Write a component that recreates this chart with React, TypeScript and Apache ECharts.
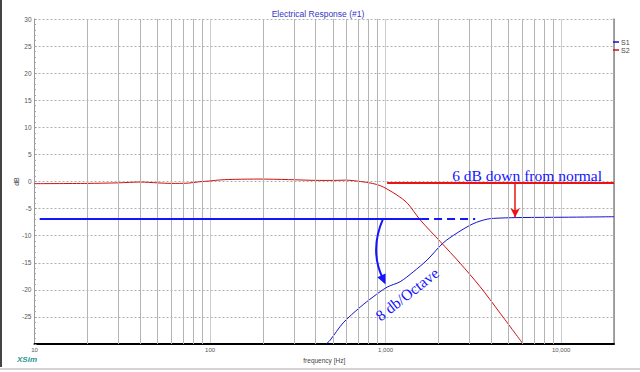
import React, { useEffect, useRef } from "react";
import * as echarts from "echarts";

const titleText = "Electrical Response (#1)";
const xName = "frequency [Hz]";
const yName = "dB";
const seriesNames = ["S1", "S2"];
const xMin = 10;
const xMax = 20000;
const yMin = -30;
const yMax = 30;
const yStep = 5;
const minorFreqs = [
  20, 30, 40, 50, 60, 70, 80, 90,
  200, 300, 400, 500, 600, 700, 800, 900,
  2000, 3000, 4000, 5000, 6000, 7000, 8000, 9000,
];

// S1 (blue) [Hz, dB]
const s1Data: number[][] = [
  [458, -30], [483, -29.3], [573, -26.1], [716, -23.2], [849, -21.3],
  [1020, -19.5], [1210, -18.5], [1435, -16.7], [1723, -14.5], [2127, -11.35],
  [2555, -9.5], [3150, -7.8], [3790, -6.95], [4490, -6.75], [6000, -6.65],
  [10000, -6.6], [15000, -6.55], [20000, -6.5],
];

// S2 (red) [Hz, dB]
const s2Data: number[][] = [
  [10, -0.4], [20, -0.35], [30, -0.25], [40, -0.1], [50, -0.25], [60, -0.35],
  [75, -0.3], [87, -0.05], [100, 0.1], [115, 0.3], [140, 0.4], [190, 0.45],
  [280, 0.35], [420, 0.2], [500, 0.2], [590, 0.25], [720, 0], [840, -0.35],
  [930, -0.75], [1020, -1.4], [1160, -2.5], [1330, -4], [1575, -7.1],
  [2050, -11.1], [2660, -15.1], [3450, -19.4], [4490, -24.3], [6070, -30],
];

// annotation geometry in data space [Hz, dB]
const normalLine = [[1020, -0.2], [20000, -0.2]];
const downArrow = [[5470, -0.2], [5470, -6.6]];
const flatSolid = [[10.7, -6.85], [1592, -6.85]];
const flatDashed = [[1592, -6.85], [3236, -6.85]];
// quadratic curve: start, control, end
const curvedArrow = [[968, -6.85], [810, -12.6], [1000, -19.0]];
const annotTexts = ["6 dB down from normal", "8 db/Octave"];
const annotTextPos = [[6400, 1.1], [1324, -20.8]];
const annotTextRot = [0, 38];

export default function App() {
  const ref = useRef<HTMLDivElement>(null);
  useEffect(() => {
    document.body.style.margin = "0";
    if (!ref.current) return;
    const chart = echarts.init(ref.current, null, { renderer: "svg" });
    const blueA = "#1414ff";
    const redA = "#ee1111";
    const font = "Arial, 'Liberation Sans'";
    const option: any = {
      animation: false,
      backgroundColor: "#ffffff",
      title: {
        text: titleText,
        left: 313,
        top: 4,
        textAlign: "center",
        textStyle: { fontFamily: font, fontSize: 8.5, fontWeight: "normal", color: "#3535c8" },
      },
      legend: {
        data: seriesNames,
        orient: "vertical",
        left: 613,
        top: 38,
        itemWidth: 6,
        itemHeight: 1.5,
        itemGap: 0,
        padding: 0,
        icon: "rect",
        textStyle: { fontFamily: font, fontSize: 7, color: "#444", padding: [0, 0, 0, -3], lineHeight: 8 },
      },
      grid: { left: 34.5, right: 26, top: 19, bottom: 28, containLabel: false, outerBoundsMode: "none" },
      xAxis: {
        type: "log",
        logBase: 10,
        min: xMin,
        max: xMax,
        name: xName,
        nameLocation: "middle",
        nameGap: 13,
        nameMoveOverlap: false,
        nameTextStyle: { fontFamily: font, fontSize: 6.5, color: "#444" },
        axisLine: { show: true, onZero: false, lineStyle: { color: "#000", width: 2 } },
        axisTick: { show: false },
        axisLabel: {
          fontFamily: font,
          fontSize: 6,
          color: "#555",
          margin: 3,
          showMaxLabel: false,
          formatter: (v: number) => (v >= 1000 ? v.toLocaleString("en-US") : String(v)),
        },
        splitLine: { show: true, lineStyle: { color: "#cccccc", width: 1 } },
      },
      yAxis: [
        {
          type: "value",
          min: yMin,
          max: yMax,
          interval: yStep,
          name: yName,
          nameLocation: "middle",
          nameRotate: 90,
          nameGap: 15,
          nameMoveOverlap: false,
          nameTextStyle: { fontFamily: font, fontSize: 7, color: "#444" },
          axisLine: { show: true, onZero: false, lineStyle: { color: "#999", width: 1 } },
          axisTick: { show: true, length: 2, inside: true, lineStyle: { color: "#999" } },
          minorTick: { show: true, splitNumber: 5, length: 1.5, lineStyle: { color: "#aaa" } },
          axisLabel: {
            fontFamily: font,
            fontSize: 6.5,
            color: "#555",
            margin: 3,
            formatter: (v: number) => (v === yMin ? "" : String(v)),
          },
          splitLine: { show: true, lineStyle: { color: "#b0b0b0", type: [2, 2], width: 1 } },
        },
        {
          type: "value",
          min: yMin,
          max: yMax,
          interval: yStep,
          position: "right",
          axisLine: { show: true, onZero: false, lineStyle: { color: "#888", width: 1.5 } },
          axisTick: { show: false },
          axisLabel: { show: false },
          splitLine: { show: false },
        },
      ],
      series: [
        {
          name: "grid",
          type: "line",
          data: [],
          silent: true,
          z: 1,
          markLine: {
            silent: true,
            symbol: ["none", "none"],
            label: { show: false },
            lineStyle: { color: "#b4b4b4", width: 1, type: "solid" },
            data: minorFreqs.map((f) => ({ xAxis: f })),
          },
        },
        {
          name: seriesNames[0],
          type: "line",
          data: s1Data,
          showSymbol: false,
          smooth: 0.3,
          color: "#1212cc",
          lineStyle: { width: 1, color: "#1212cc" },
          z: 3,
        },
        {
          name: seriesNames[1],
          type: "line",
          data: s2Data,
          showSymbol: false,
          smooth: 0.3,
          color: "#d01010",
          lineStyle: { width: 1, color: "#d01010" },
          z: 3,
        },
        {
          name: "annot",
          type: "line",
          data: [],
          silent: true,
          z: 5,
          markLine: {
            silent: true,
            symbol: ["none", "none"],
            label: { show: false },
            emphasis: { disabled: true },
            data: [
              [
                { coord: normalLine[0], lineStyle: { color: redA, width: 2, type: "solid" } },
                { coord: normalLine[1] },
              ],
              [
                { coord: downArrow[0], symbol: "none", lineStyle: { color: redA, width: 1.5, type: "solid" } },
                { coord: downArrow[1], symbol: "arrow", symbolSize: [7, 9], itemStyle: { color: redA } },
              ],
              [
                { coord: flatSolid[0], lineStyle: { color: blueA, width: 2, type: "solid" } },
                { coord: flatSolid[1] },
              ],
              [
                { coord: flatDashed[0], lineStyle: { color: blueA, width: 2, type: [8, 5] } },
                { coord: flatDashed[1] },
              ],
            ],
          },
        },
        {
          name: "annotCurve",
          type: "custom",
          silent: true,
          z: 6,
          data: [[curvedArrow[0][0], curvedArrow[0][1], curvedArrow[1][0], curvedArrow[1][1], curvedArrow[2][0], curvedArrow[2][1]]],
          renderItem: (params: any, api: any) => {
            const p0 = api.coord([api.value(0), api.value(1)]);
            const c = api.coord([api.value(2), api.value(3)]);
            const p1 = api.coord([api.value(4), api.value(5)]);
            const dx = p1[0] - c[0];
            const dy = p1[1] - c[1];
            const len = Math.sqrt(dx * dx + dy * dy) || 1;
            const ux = dx / len;
            const uy = dy / len;
            const headLen = 10;
            const headHalf = 4.5;
            const bx = p1[0] - ux * headLen;
            const by = p1[1] - uy * headLen;
            const ex = p1[0] - ux * (headLen - 2);
            const ey = p1[1] - uy * (headLen - 2);
            return {
              type: "group",
              children: [
                {
                  type: "bezierCurve",
                  shape: { x1: p0[0], y1: p0[1], x2: ex, y2: ey, cpx1: c[0], cpy1: c[1] },
                  style: { stroke: blueA, lineWidth: 2, fill: "none" },
                },
                {
                  type: "polygon",
                  shape: {
                    points: [
                      [p1[0], p1[1]],
                      [bx - uy * headHalf, by + ux * headHalf],
                      [bx + uy * headHalf, by - ux * headHalf],
                    ],
                  },
                  style: { fill: blueA },
                },
              ],
            };
          },
        },
        {
          name: "annotText",
          type: "custom",
          silent: true,
          z: 6,
          data: annotTextPos.map((p, i) => [p[0], p[1], i]),
          renderItem: (params: any, api: any) => {
            const p = api.coord([api.value(0), api.value(1)]);
            const i = api.value(2);
            return {
              type: "text",
              x: p[0],
              y: p[1],
              rotation: (annotTextRot[i] * Math.PI) / 180,
              style: {
                text: annotTexts[i],
                fill: blueA,
                font: "15.5px 'Liberation Serif', 'Times New Roman', serif",
                align: "center",
                verticalAlign: "middle",
              },
            };
          },
        },
      ],
      graphic: [
        { type: "rect", shape: { x: 0, y: 0, width: 2, height: 367 }, style: { fill: "#444" }, silent: true },
        { type: "rect", shape: { x: 0, y: 368, width: 640, height: 2 }, style: { fill: "#d4d4d4" }, silent: true },
        {
          type: "text",
          x: 17,
          y: 355,
          style: {
            text: "XSim",
            fill: "#2a9494",
            font: "italic bold 8px Arial, 'Liberation Sans'",
          },
          silent: true,
        },
      ],
    };
    chart.setOption(option);
    return () => chart.dispose();
  }, []);
  return (
    <div
      ref={ref}
      style={{ position: "absolute", left: 0, top: 0, width: 640, height: 372 }}
    />
  );
}
